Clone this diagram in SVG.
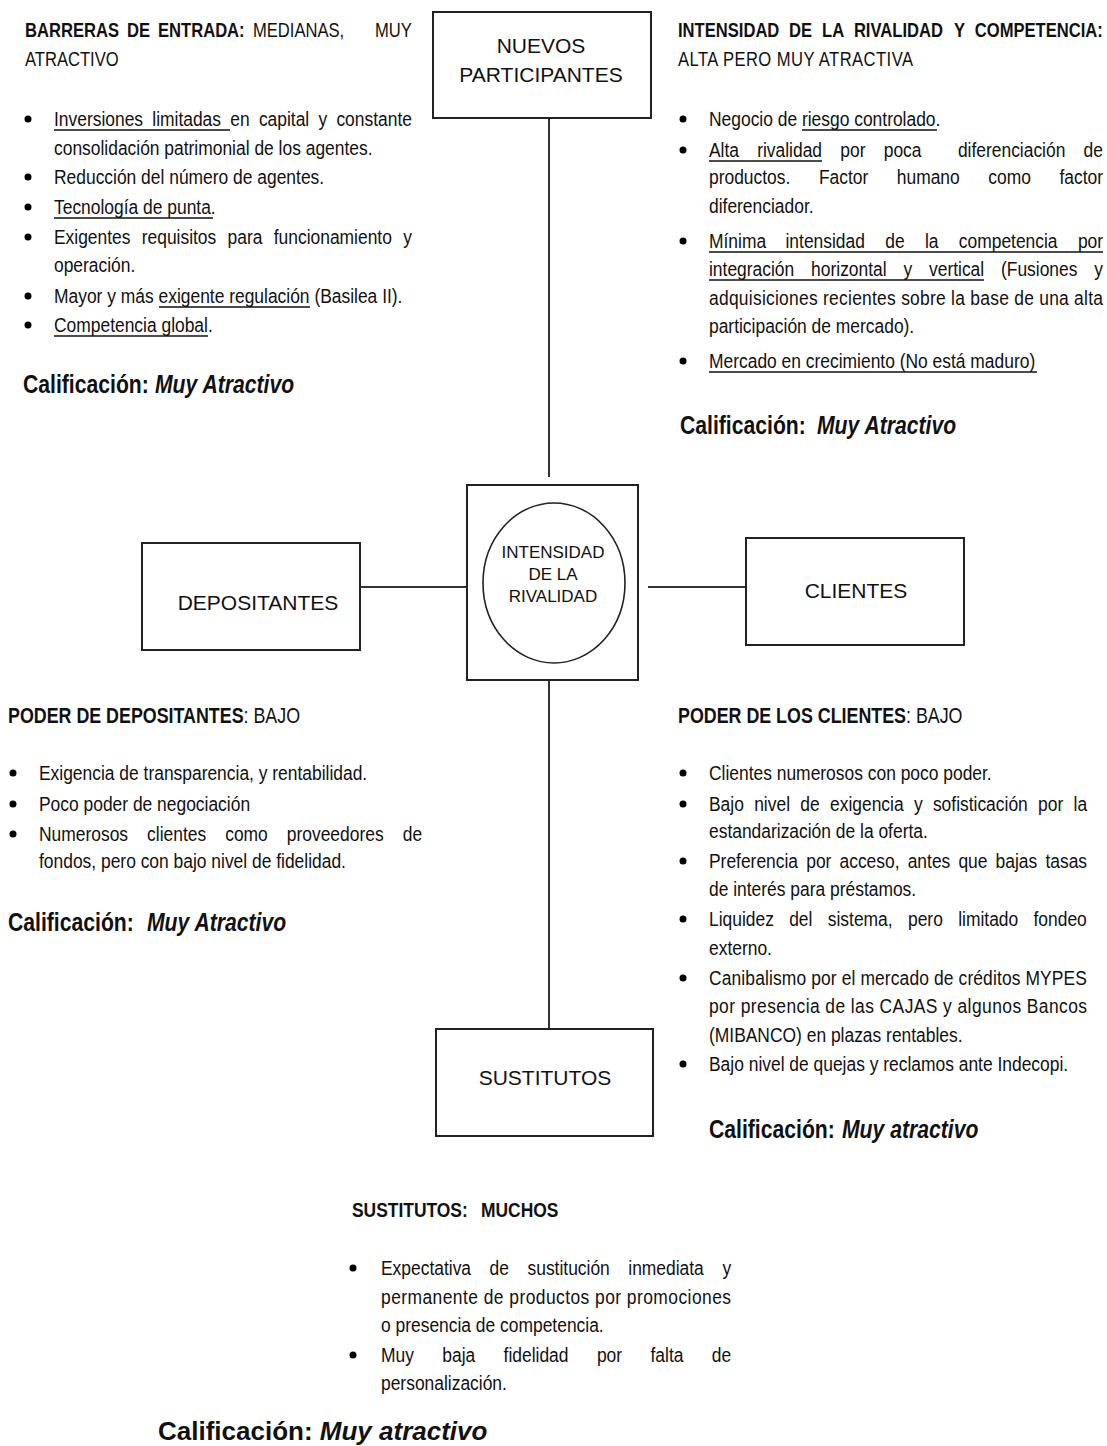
<svg xmlns="http://www.w3.org/2000/svg" width="1107" height="1446" viewBox="0 0 1107 1446">
  <style>
    text{font-family:"Liberation Sans",Arial,sans-serif;fill:#111}
    .t{font-size:21px}
    .h{font-size:20px;font-weight:bold}
    .hp{font-size:21.5px;font-weight:bold}
    .r{font-weight:normal}
    .cal{font-size:25.5px;font-weight:bold}
    .calw{font-size:26px;font-weight:bold}
    .it{font-style:italic}
    .lbl{font-size:21px;text-anchor:middle}
    .sm{font-size:17px;text-anchor:middle}
    .box{fill:#fff;stroke:#222;stroke-width:2}
    .wire{stroke:#333;stroke-width:2;fill:none}
    .ul{stroke:#111;stroke-width:1.3}
    .dot{fill:#000}
  </style>
  <rect width="1107" height="1446" fill="#fff"/>

  <!-- connectors -->
  <g id="connectors">
    <line class="wire" x1="549" y1="118" x2="549" y2="477"/>
    <line class="wire" x1="549" y1="681" x2="549" y2="1029"/>
    <line class="wire" x1="357" y1="587" x2="473" y2="587"/>
    <line class="wire" x1="648" y1="587" x2="746" y2="587"/>
  </g>

  <!-- nodes -->
  <g id="nuevos-participantes">
    <rect class="box" x="433" y="12" width="218" height="106"/>
    <text class="lbl" x="541" y="53">NUEVOS</text>
    <text class="lbl" x="541" y="82">PARTICIPANTES</text>
  </g>
  <g id="intensidad-rivalidad">
    <rect class="box" x="467" y="485" width="171" height="195"/>
    <ellipse cx="554" cy="583" rx="71" ry="80" fill="#fff" stroke="#222" stroke-width="1.6"/>
    <text class="sm" x="553" y="558">INTENSIDAD</text>
    <text class="sm" x="553" y="580">DE LA</text>
    <text class="sm" x="553" y="602">RIVALIDAD</text>
  </g>
  <g id="depositantes">
    <rect class="box" x="142" y="543" width="218" height="107"/>
    <text class="lbl" x="258" y="610">DEPOSITANTES</text>
  </g>
  <g id="clientes">
    <rect class="box" x="746" y="538" width="218" height="107"/>
    <text class="lbl" x="856" y="598">CLIENTES</text>
  </g>
  <g id="sustitutos">
    <rect class="box" x="436" y="1029" width="217" height="107"/>
    <text class="lbl" x="545" y="1085">SUSTITUTOS</text>
  </g>

  <!-- barreras de entrada (narrow text: x values are divided by 0.83) -->
  <g id="barreras">
    <circle class="dot" cx="28" cy="119" r="3.5"/>
    <circle class="dot" cx="28" cy="177" r="3.5"/>
    <circle class="dot" cx="28" cy="207" r="3.5"/>
    <circle class="dot" cx="28" cy="237" r="3.5"/>
    <circle class="dot" cx="28" cy="296" r="3.5"/>
    <circle class="dot" cx="28" cy="325" r="3.5"/>
    <line class="ul" x1="54" y1="130" x2="230" y2="130"/>
    <line class="ul" x1="54" y1="218" x2="213" y2="218"/>
    <line class="ul" x1="159" y1="307" x2="310" y2="307"/>
    <line class="ul" x1="54" y1="336" x2="208" y2="336"/>
    <g transform="scale(0.83 1)">
      <text class="h" y="37"><tspan x="30.12">BARRERAS</tspan> <tspan x="153">DE</tspan> <tspan x="190.4">ENTRADA:</tspan> <tspan class="r" x="304.8">MEDIANAS,</tspan> <tspan class="r" x="451.8">MUY</tspan></text>
      <text class="h r" x="30.12" y="66">ATRACTIVO</text>
      <text class="t" y="126"><tspan x="65.06">Inversiones</tspan> <tspan x="183.49">limitadas</tspan> <tspan x="277.47">en</tspan> <tspan x="311.93">capital</tspan> <tspan x="383.73">y</tspan> <tspan x="405.30">constante</tspan></text>
      <text class="t" x="65.06" y="155">consolidación patrimonial de los agentes.</text>
      <text class="t" x="65.06" y="184">Reducción del número de agentes.</text>
      <text class="t" x="65.06" y="214">Tecnología de punta.</text>
      <text class="t" y="244"><tspan x="65.06">Exigentes</tspan> <tspan x="170.78">requisitos</tspan> <tspan x="274.22">para</tspan> <tspan x="329.82">funcionamiento</tspan> <tspan x="485.90">y</tspan></text>
      <text class="t" x="65.06" y="272">operación.</text>
      <text class="t" x="65.06" y="303">Mayor y más exigente regulación (Basilea II).</text>
      <text class="t" x="65.06" y="332">Competencia global.</text>
      <text class="cal" y="393"><tspan x="27.71">Calificación:</tspan> <tspan class="it" x="186.75">Muy Atractivo</tspan></text>
    </g>
  </g>

  <!-- intensidad de la rivalidad y competencia -->
  <g id="rivalidad">
    <circle class="dot" cx="683" cy="119" r="3.5"/>
    <circle class="dot" cx="683" cy="150" r="3.5"/>
    <circle class="dot" cx="683" cy="241" r="3.5"/>
    <circle class="dot" cx="683" cy="361" r="3.5"/>
    <line class="ul" x1="802" y1="130" x2="937" y2="130"/>
    <line class="ul" x1="709" y1="161" x2="822" y2="161"/>
    <line class="ul" x1="709" y1="252" x2="1103" y2="252"/>
    <line class="ul" x1="709" y1="280" x2="984" y2="280"/>
    <line class="ul" x1="709" y1="372" x2="1037" y2="372"/>
    <g transform="scale(0.83 1)">
      <text class="h" y="37"><tspan x="816.87">INTENSIDAD</tspan> <tspan x="950.72">DE</tspan> <tspan x="990.36">LA</tspan> <tspan x="1028.80">RIVALIDAD</tspan> <tspan x="1149.40">Y</tspan> <tspan x="1174.46">COMPETENCIA:</tspan></text>
      <text class="h r" x="816.87" y="66" textLength="283.1" lengthAdjust="spacing">ALTA PERO MUY ATRACTIVA</text>
      <text class="t" x="854.22" y="126">Negocio de riesgo controlado.</text>
      <text class="t" y="157"><tspan x="854.22">Alta</tspan> <tspan x="912.29">rivalidad</tspan> <tspan x="1012.41">por</tspan> <tspan x="1064.70">poca</tspan> <tspan x="1154.10">diferenciación</tspan> <tspan x="1305.54">de</tspan></text>
      <text class="t" y="184"><tspan x="854.22">productos.</tspan> <tspan x="986.63">Factor</tspan> <tspan x="1080.48">humano</tspan> <tspan x="1190.72">como</tspan> <tspan x="1276.39">factor</tspan></text>
      <text class="t" x="854.22" y="213">diferenciador.</text>
      <text class="t" y="248"><tspan x="854.22">Mínima</tspan> <tspan x="946.39">intensidad</tspan> <tspan x="1066.51">de</tspan> <tspan x="1114.34">la</tspan> <tspan x="1155.18">competencia</tspan> <tspan x="1298.67">por</tspan></text>
      <text class="t" y="276"><tspan x="854.22">integración</tspan> <tspan x="977.23">horizontal</tspan> <tspan x="1088.55">y</tspan> <tspan x="1119.28">vertical</tspan> <tspan x="1206.02">(Fusiones</tspan> <tspan x="1318.43">y</tspan></text>
      <text class="t" x="854.22" y="305" textLength="474.7" lengthAdjust="spacing">adquisiciones recientes sobre la base de una alta</text>
      <text class="t" x="854.22" y="333">participación de mercado).</text>
      <text class="t" x="854.22" y="368">Mercado en crecimiento (No está maduro)</text>
      <text class="cal" y="434"><tspan x="819.28">Calificación:</tspan> <tspan class="it" x="984.34">Muy Atractivo</tspan></text>
    </g>
  </g>

  <!-- poder de depositantes -->
  <g id="poder-depositantes">
    <circle class="dot" cx="13" cy="773" r="3.5"/>
    <circle class="dot" cx="13" cy="804" r="3.5"/>
    <circle class="dot" cx="13" cy="834" r="3.5"/>
    <g transform="scale(0.83 1)">
      <text class="hp" x="9.64" y="723">PODER DE DEPOSITANTES<tspan class="r">: BAJO</tspan></text>
      <text class="t" x="46.99" y="780">Exigencia de transparencia, y rentabilidad.</text>
      <text class="t" x="46.99" y="811">Poco poder de negociación</text>
      <text class="t" y="841"><tspan x="46.99">Numerosos</tspan> <tspan x="177.23">clientes</tspan> <tspan x="271.33">como</tspan> <tspan x="345.54">proveedores</tspan> <tspan x="485.18">de</tspan></text>
      <text class="t" x="46.99" y="868">fondos, pero con bajo nivel de fidelidad.</text>
      <text class="cal" y="931"><tspan x="9.64">Calificación:</tspan> <tspan class="it" x="177.11">Muy Atractivo</tspan></text>
    </g>
  </g>

  <!-- poder de los clientes -->
  <g id="poder-clientes">
    <circle class="dot" cx="683" cy="773" r="3.5"/>
    <circle class="dot" cx="683" cy="804" r="3.5"/>
    <circle class="dot" cx="683" cy="861" r="3.5"/>
    <circle class="dot" cx="683" cy="919" r="3.5"/>
    <circle class="dot" cx="683" cy="978" r="3.5"/>
    <circle class="dot" cx="683" cy="1064" r="3.5"/>
    <g transform="scale(0.83 1)">
      <text class="hp" x="816.87" y="723">PODER DE LOS CLIENTES<tspan class="r">: BAJO</tspan></text>
      <text class="t" x="854.22" y="780">Clientes numerosos con poco poder.</text>
      <text class="t" y="811"><tspan x="854.22">Bajo</tspan> <tspan x="908.67">nivel</tspan> <tspan x="964.22">de</tspan> <tspan x="1000.0">exigencia</tspan> <tspan x="1101.08">y</tspan> <tspan x="1123.98">sofisticación</tspan> <tspan x="1250.72">por</tspan> <tspan x="1293.49">la</tspan></text>
      <text class="t" x="854.22" y="838">estandarización de la oferta.</text>
      <text class="t" y="868"><tspan x="854.22">Preferencia</tspan> <tspan x="971.33">por</tspan> <tspan x="1011.45">acceso,</tspan> <tspan x="1093.61">antes</tspan> <tspan x="1154.70">que</tspan> <tspan x="1199.52">bajas</tspan> <tspan x="1259.52">tasas</tspan></text>
      <text class="t" x="854.22" y="896">de interés para préstamos.</text>
      <text class="t" y="926"><tspan x="854.22">Liquidez</tspan> <tspan x="950.84">del</tspan> <tspan x="997.35">sistema,</tspan> <tspan x="1093.98">pero</tspan> <tspan x="1154.46">limitado</tspan> <tspan x="1245.18">fondeo</tspan></text>
      <text class="t" x="854.22" y="955">externo.</text>
      <text class="t" x="854.22" y="985" textLength="455.4" lengthAdjust="spacing">Canibalismo por el mercado de créditos MYPES</text>
      <text class="t" x="854.22" y="1013" textLength="455.4" lengthAdjust="spacing">por presencia de las CAJAS y algunos Bancos</text>
      <text class="t" x="854.22" y="1042">(MIBANCO) en plazas rentables.</text>
      <text class="t" x="854.22" y="1071">Bajo nivel de quejas y reclamos ante Indecopi.</text>
      <text class="cal" y="1138"><tspan x="854.22">Calificación:</tspan> <tspan class="it" x="1014.46">Muy atractivo</tspan></text>
    </g>
  </g>

  <!-- sustitutos -->
  <g id="poder-sustitutos">
    <circle class="dot" cx="353" cy="1268" r="3.5"/>
    <circle class="dot" cx="353" cy="1355" r="3.5"/>
    <g transform="scale(0.83 1)">
      <text class="hp" y="1217" style="font-size:21px"><tspan x="424.10">SUSTITUTOS:</tspan> <tspan x="579.52">MUCHOS</tspan></text>
      <text class="t" y="1275"><tspan x="459.04">Expectativa</tspan> <tspan x="589.88">de</tspan> <tspan x="635.54">sustitución</tspan> <tspan x="756.99">inmediata</tspan> <tspan x="870.36">y</tspan></text>
      <text class="t" x="459.04" y="1304" textLength="421.7" lengthAdjust="spacing">permanente de productos por promociones</text>
      <text class="t" x="459.04" y="1332">o presencia de competencia.</text>
      <text class="t" y="1362"><tspan x="459.04">Muy</tspan> <tspan x="532.89">baja</tspan> <tspan x="606.75">fidelidad</tspan> <tspan x="719.16">por</tspan> <tspan x="783.73">falta</tspan> <tspan x="857.59">de</tspan></text>
      <text class="t" x="459.04" y="1390">personalización.</text>
    </g>
    <text class="calw" x="158" y="1440">Calificación: <tspan class="it">Muy atractivo</tspan></text>
  </g>
</svg>
